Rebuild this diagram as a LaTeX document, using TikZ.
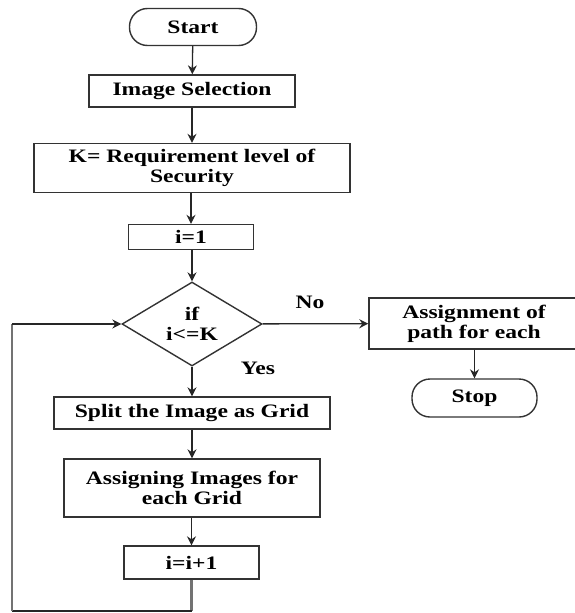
\documentclass[tikz,border=0pt]{standalone}
\usepackage{fontspec}
\setmainfont{Liberation Serif}[FakeStretch=1.24]
\usetikzlibrary{shapes.geometric,arrows.meta}
\tikzset{
  base/.style={draw=black!80, line width=1.4pt, inner sep=0pt, align=center,
    font=\fontsize{19}{20}\selectfont\bfseries},
  procbox/.style={base, rectangle},
  termbox/.style={base, rectangle, rounded corners=18pt},
  decbox/.style={base, diamond, aspect=1.67},
  conn/.style={draw=black!85, line width=1.3pt, -{Stealth[length=9pt,width=9pt,inset=3pt]}},
  plainline/.style={draw=black!85, line width=1.2pt},
  loopline/.style={draw=black!55, line width=2.6pt},
  lbl/.style={font=\fontsize{19}{20}\selectfont\bfseries, inner sep=0pt}
}
\begin{document}
\begin{tikzpicture}[x=1pt,y=-1pt]
\useasboundingbox (0,0) rectangle (574,613);
\node[termbox, minimum width=127pt, minimum height=37pt] (start) at (193,27) {Start};
\node[procbox, minimum width=206pt, minimum height=32pt] (sel) at (192,91) {Image Selection};
\node[procbox, minimum width=316pt, minimum height=49pt] (kreq) at (192,168) {K= Requirement level of\\Security};
\node[procbox, minimum width=125pt, minimum height=25pt] (i1) at (191,237) {i=1};
\node[decbox, minimum width=140pt, minimum height=84pt] (dia) at (192,324) {if\\i<=K};
\node[procbox, minimum width=210pt, minimum height=51pt] (assign) at (474,323.5) {Assignment of\\path for each};
\node[termbox, minimum width=125pt, minimum height=38pt] (stop) at (474.5,398) {Stop};
\node[procbox, minimum width=276pt, minimum height=32pt] (split) at (192,413) {Split the Image as Grid};
\node[procbox, minimum width=256pt, minimum height=58pt] (agrid) at (192,488) {Assigning Images for\\each Grid};
\node[procbox, minimum width=135pt, minimum height=33pt] (i2) at (191.5,562.5) {i=i+1};
\node[lbl] (no) at (310,302) {No};
\node[lbl] (yes) at (258,368) {Yes};
\coordinate (bl) at (12,611);
\coordinate (br) at (191.5,611);
\coordinate (tl) at (12,324);

\draw[conn] (start) -- (sel);
\draw[conn] (sel) -- (kreq);
\draw[conn] (kreq.south -| i1.north) -- (i1);
\draw[conn] (i1.south -| dia.north) -- (dia);
\draw[conn] (dia) -- (assign);
\draw[conn] (assign.south -| stop.north) -- (stop);
\draw[conn] (dia) -- (split);
\draw[conn] (split) -- (agrid);
\draw[conn] (agrid.south -| i2.north) -- (i2);
\draw[loopline] (i2.south) -- (br);
\draw[plainline] (br) -- (bl);
\draw[loopline] (bl) -- (tl);
\draw[conn] (tl) -- (dia.west);
\end{tikzpicture}
\end{document}
